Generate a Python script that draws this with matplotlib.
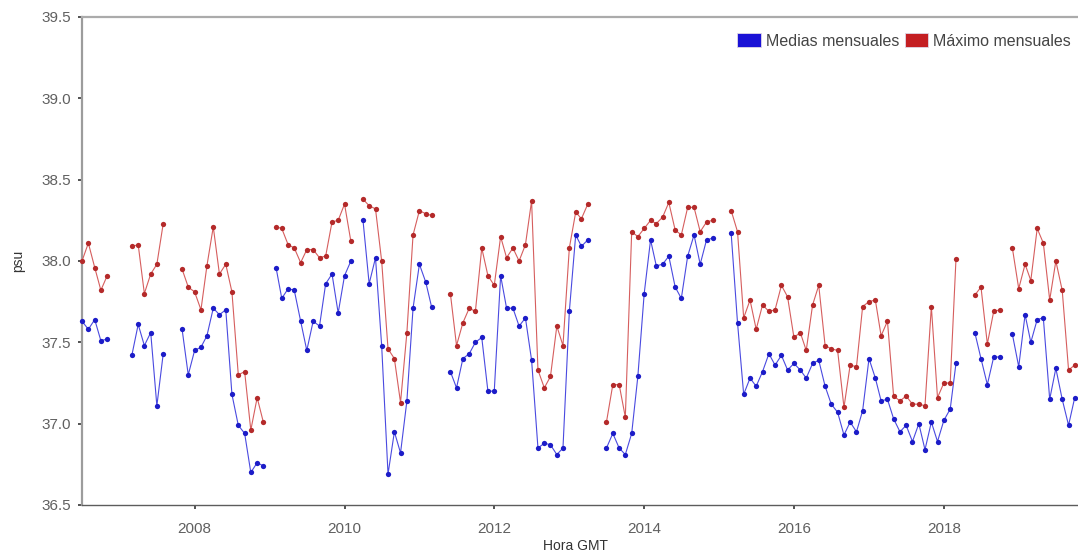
import numpy as np
import pandas as pd
import matplotlib
matplotlib.use("Agg")
import matplotlib.pyplot as plt
import matplotlib.dates as mdates
from matplotlib.patches import Patch

plt.rcParams['font.family'] = ['Liberation Sans', 'DejaVu Sans']

nan = np.nan

# one value per month, Jul 2006 .. Oct 2019 (nan = no data)
months = pd.date_range('2006-07-01', '2019-10-01', freq='MS')

medias = [
    37.63, 37.58, 37.64, 37.51, 37.52, nan,                                       # 2006 Jul-Dec
    nan, nan, 37.42, 37.61, 37.48, 37.56, 37.11, 37.43, nan, nan, 37.58, 37.30,   # 2007
    37.45, 37.47, 37.54, 37.71, 37.67, 37.70, 37.18, 36.99, 36.94, 36.70, 36.76, 36.74,  # 2008
    nan, 37.96, 37.77, 37.83, 37.82, 37.63, 37.45, 37.63, 37.60, 37.86, 37.92, 37.68,    # 2009
    37.91, 38.00, nan, 38.25, 37.86, 38.02, 37.48, 36.69, 36.95, 36.82, 37.14, 37.71,    # 2010
    37.98, 37.87, 37.72, nan, nan, 37.32, 37.22, 37.40, 37.43, 37.50, 37.53, 37.20,      # 2011
    37.20, 37.91, 37.71, 37.71, 37.60, 37.65, 37.39, 36.85, 36.88, 36.87, 36.81, 36.85,  # 2012
    37.69, 38.16, 38.09, 38.13, nan, nan, 36.85, 36.94, 36.85, 36.81, 36.94, 37.29,      # 2013
    37.80, 38.13, 37.97, 37.98, 38.03, 37.84, 37.77, 38.03, 38.16, 37.98, 38.13, 38.14,  # 2014
    nan, nan, 38.17, 37.62, 37.18, 37.28, 37.23, 37.32, 37.43, 37.36, 37.42, 37.33,      # 2015
    37.37, 37.33, 37.28, 37.37, 37.39, 37.23, 37.12, 37.07, 36.93, 37.01, 36.95, 37.08,  # 2016
    37.40, 37.28, 37.14, 37.15, 37.03, 36.95, 36.99, 36.89, 37.00, 36.84, 37.01, 36.89,  # 2017
    37.02, 37.09, 37.37, nan, nan, 37.56, 37.40, 37.24, 37.41, 37.41, nan, 37.55,        # 2018
    37.35, 37.67, 37.50, 37.64, 37.65, 37.15, 37.34, 37.15, 36.99, 37.16,                # 2019 Jan-Oct
]

maximos = [
    38.00, 38.11, 37.96, 37.82, 37.91, nan,
    nan, nan, 38.09, 38.10, 37.80, 37.92, 37.98, 38.23, nan, nan, 37.95, 37.84,
    37.81, 37.70, 37.97, 38.21, 37.92, 37.98, 37.81, 37.30, 37.32, 36.96, 37.16, 37.01,
    nan, 38.21, 38.20, 38.10, 38.08, 37.99, 38.07, 38.07, 38.02, 38.03, 38.24, 38.25,
    38.35, 38.12, nan, 38.38, 38.34, 38.32, 38.00, 37.46, 37.40, 37.13, 37.56, 38.16,
    38.31, 38.29, 38.28, nan, nan, 37.80, 37.48, 37.62, 37.71, 37.69, 38.08, 37.91,
    37.85, 38.15, 38.02, 38.08, 38.00, 38.10, 38.37, 37.33, 37.22, 37.29, 37.60, 37.48,
    38.08, 38.30, 38.26, 38.35, nan, nan, 37.01, 37.24, 37.24, 37.04, 38.18, 38.15,
    38.20, 38.25, 38.23, 38.27, 38.36, 38.19, 38.16, 38.33, 38.33, 38.18, 38.24, 38.25,
    nan, nan, 38.31, 38.18, 37.65, 37.76, 37.58, 37.73, 37.69, 37.70, 37.85, 37.78,
    37.53, 37.56, 37.45, 37.73, 37.85, 37.48, 37.46, 37.45, 37.10, 37.36, 37.35, 37.72,
    37.75, 37.76, 37.54, 37.63, 37.17, 37.14, 37.17, 37.12, 37.12, 37.11, 37.72, 37.16,
    37.25, 37.25, 38.01, nan, nan, 37.79, 37.84, 37.49, 37.69, 37.70, nan, 38.08,
    37.83, 37.98, 37.88, 38.20, 38.11, 37.76, 38.00, 37.82, 37.33, 37.36,
]

LABELS = ['Medias mensuales', 'Máximo mensuales']
LINE_COLORS = ['#4a4ae0', '#d65e5e']
MARKER_COLORS = ['#1c1cc8', '#b42a2a']
PATCH_COLORS = ['#1a12d6', '#c41e22']

fig = plt.figure(figsize=(10.78, 5.52), dpi=100)
ax = fig.add_axes([82 / 1078, 47 / 552, 996 / 1078, 488 / 552])

for values, lc, mc in zip([medias, maximos], LINE_COLORS, MARKER_COLORS):
    ax.plot(months, values, color=lc, lw=0.8, marker='o', ms=3.8,
            mfc=mc, mec=mc, mew=0, clip_on=False, zorder=3)

ax.set_xlim(pd.Timestamp('2006-07-01'), pd.Timestamp('2019-10-17'))
ax.set_ylim(36.5, 39.5)
ax.set_yticks(np.arange(36.5, 39.51, 0.5))
ax.yaxis.set_major_formatter(plt.FormatStrFormatter('%.1f'))
ax.xaxis.set_major_locator(mdates.YearLocator(2))
ax.xaxis.set_major_formatter(mdates.DateFormatter('%Y'))

ax.tick_params(axis='both', labelsize=11, labelcolor='#606060', color='#333333',
               length=3, width=1.2)
ax.tick_params(axis='y', pad=5)
ax.tick_params(axis='x', pad=9)

ax.spines['right'].set_visible(False)
ax.spines['left'].set_color('#9c9c9c')
ax.spines['left'].set_linewidth(1.6)
ax.spines['top'].set_color('#ababab')
ax.spines['top'].set_linewidth(1.6)
ax.spines['bottom'].set_color('#5c5c5c')
ax.spines['bottom'].set_linewidth(1.0)

ax.set_ylabel('psu', fontsize=10, color='#333333', va='center')
ax.yaxis.set_label_coords(-0.064, 0.5)
ax.set_xlabel('Hora GMT', fontsize=10, color='#333333', va='center')
ax.xaxis.set_label_coords(0.495, -0.084)

handles = [Patch(facecolor=c, edgecolor='#e0d8e8', lw=0.6) for c in PATCH_COLORS]
fig.legend(handles, LABELS, loc='center right', bbox_to_anchor=(1071 / 1078, 1 - 41 / 552),
           ncol=2, frameon=False, fontsize=11.5, handlelength=1.5, handleheight=1.0,
           handletextpad=0.3, columnspacing=0.35, borderpad=0, borderaxespad=0,
           labelcolor='#444444')

fig.savefig('out.png', dpi=100)
